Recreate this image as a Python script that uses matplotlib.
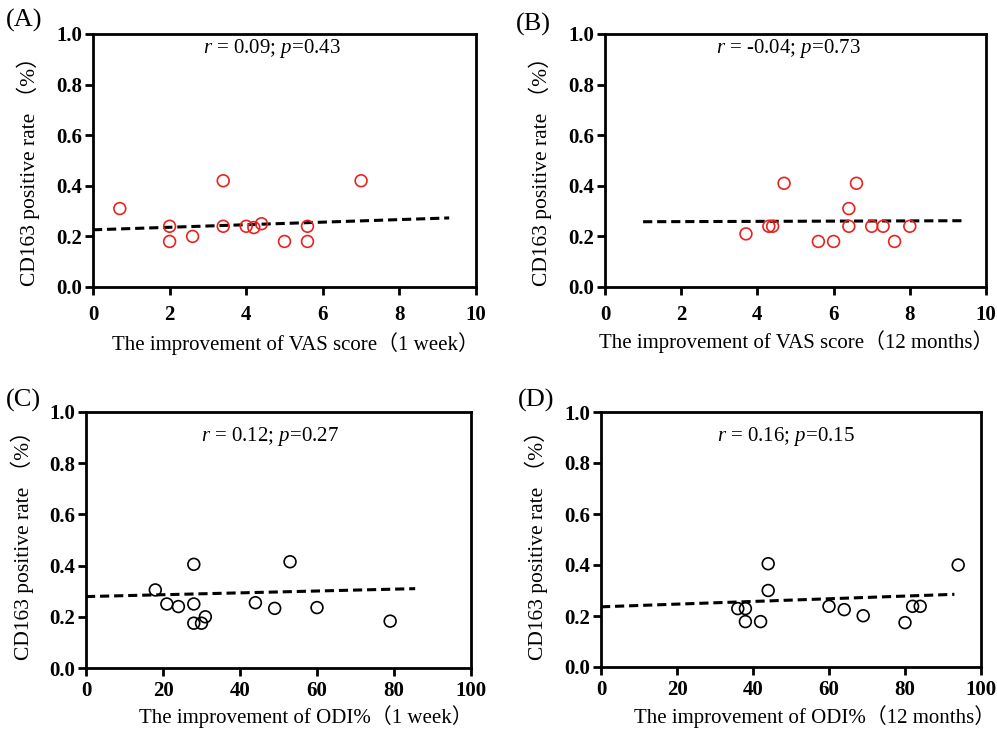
import matplotlib
matplotlib.use("Agg")
import matplotlib.pyplot as plt

plt.rcParams['font.family'] = ['Liberation Serif', 'Noto Sans CJK SC']
plt.rcParams['mathtext.fontset'] = 'custom'
plt.rcParams['mathtext.rm'] = 'Liberation Serif'
plt.rcParams['mathtext.it'] = 'Liberation Serif:italic'

# ---------------- data ----------------
a_x = [0.7, 2.0, 2.0, 2.6, 3.4, 3.4, 4.0, 4.2, 4.4, 5.0, 5.6, 5.6, 7.0]
a_y = [0.31, 0.24, 0.18, 0.20, 0.42, 0.24, 0.24, 0.235, 0.25, 0.18, 0.24, 0.18, 0.42]
a_fit_x = [0.0, 9.3]
a_fit_y = [0.226, 0.273]

b_x = [3.7, 4.3, 4.4, 4.7, 5.6, 6.0, 6.4, 6.4, 6.6, 7.0, 7.3, 7.6, 8.0]
b_y = [0.21, 0.24, 0.24, 0.41, 0.18, 0.18, 0.31, 0.24, 0.41, 0.24, 0.24, 0.18, 0.24]
b_fit_x = [1.0, 9.4]
b_fit_y = [0.258, 0.262]

c_x = [18, 21, 24, 28, 28, 28, 30, 31, 44, 49, 53, 60, 79]
c_y = [0.305, 0.25, 0.24, 0.405, 0.25, 0.175, 0.175, 0.20, 0.255, 0.233, 0.415, 0.236, 0.183]
c_fit_x = [0.0, 85.5]
c_fit_y = [0.279, 0.31]

d_x = [36, 38, 38, 42, 44, 44, 60, 64, 69, 80, 82, 84, 94]
d_y = [0.229, 0.229, 0.178, 0.178, 0.405, 0.30, 0.238, 0.225, 0.201, 0.174, 0.238, 0.238, 0.40]
d_fit_x = [0.0, 93.0]
d_fit_y = [0.236, 0.285]

x_labels = ["The improvement of VAS score（1 week）",
            "The improvement of VAS score（12 months）",
            "The improvement of ODI%（1 week）",
            "The improvement of ODI%（12 months）"]
y_label = "CD163 positive rate （%）"
panel_tags = ["(A)", "(B)", "(C)", "(D)"]
stats = [r"$r$ = 0.09; $p$=0.43", r"$r$ = -0.04; $p$=0.73",
         r"$r$ = 0.12; $p$=0.27", r"$r$ = 0.16; $p$=0.15"]
y_ticks = [0.0, 0.2, 0.4, 0.6, 0.8, 1.0]
vas_ticks = [0, 2, 4, 6, 8, 10]
odi_ticks = [0, 20, 40, 60, 80, 100]

# ---------------- layout ----------------
W, H = 997, 733
fig = plt.figure(figsize=(W / 100, H / 100), dpi=100)

def px_axes(l, r, t, b):
    return fig.add_axes([l / W, 1 - b / H, (r - l) / W, (b - t) / H])

boxes = [(93, 476, 34, 287), (605, 986, 34, 287),
         (86, 471, 412, 668), (601, 981, 412, 667)]
series = [(a_x, a_y, a_fit_x, a_fit_y, '#e8231f', vas_ticks),
          (b_x, b_y, b_fit_x, b_fit_y, '#e8231f', vas_ticks),
          (c_x, c_y, c_fit_x, c_fit_y, 'black', odi_ticks),
          (d_x, d_y, d_fit_x, d_fit_y, 'black', odi_ticks)]
xlabel_pos = [(295, 344), (796, 342), (306, 717), (815, 717)]
xpads = [7, 7, 3.5, 3.5]
ylabel_pos = [(28, 166), (540, 166), (22, 540), (536, 540)]
tag_pos = [(6, 20), (516, 24), (6, 400), (518, 400)]
stat_pos = [(272, 49), (788, 49), (270, 437), (786, 437)]

for i, (box, s) in enumerate(zip(boxes, series)):
    ax = px_axes(*box)
    xs, ys, fx, fy, col, xt = s
    ax.plot(fx, fy, color='black', lw=2.2, dashes=(3, 1.6), zorder=2)
    ax.scatter(xs, ys, s=72, facecolors='none', edgecolors=col,
               linewidths=1.2, zorder=3)
    ax.set_xlim(xt[0], xt[-1])
    ax.set_ylim(0, 1.0)
    ax.set_xticks(xt)
    ax.set_yticks(y_ticks)
    ax.set_yticklabels([f"{v:.1f}" for v in y_ticks])
    for sp in ax.spines.values():
        sp.set_linewidth(2.0)
    ax.tick_params(direction='out', length=6, width=2.0, labelsize=15)
    ax.tick_params(axis='x', pad=xpads[i])
    ax.tick_params(axis='y', pad=1.5)
    for lab in ax.get_xticklabels() + ax.get_yticklabels():
        lab.set_fontweight('bold')
    fig.text(xlabel_pos[i][0] / W, 1 - xlabel_pos[i][1] / H, x_labels[i],
             ha='center', va='center', fontsize=15)
    fig.text(ylabel_pos[i][0] / W, 1 - ylabel_pos[i][1] / H, y_label,
             ha='center', va='center', rotation=90, fontsize=15.5)
    fig.text(tag_pos[i][0] / W, 1 - tag_pos[i][1] / H, panel_tags[i],
             ha='left', va='center', fontsize=19)
    fig.text(stat_pos[i][0] / W, 1 - stat_pos[i][1] / H, stats[i],
             ha='center', va='center', fontsize=15)

fig.savefig("out.png", dpi=100)
